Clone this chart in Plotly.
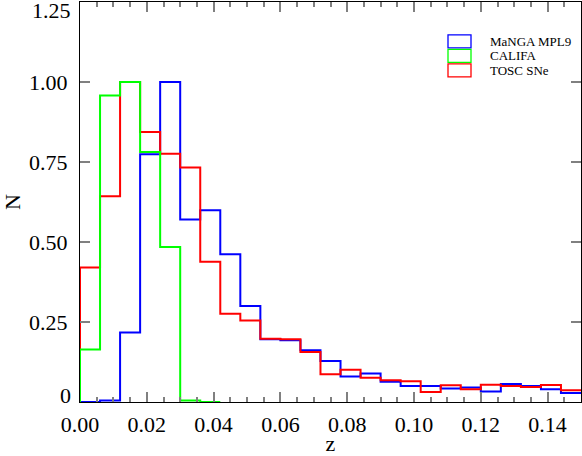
import plotly.graph_objects as go

# redshift bin edges (bin width 0.006)
Z_EDGES = [0.000, 0.006, 0.012, 0.018, 0.024, 0.030, 0.036, 0.042, 0.048, 0.054,
           0.060, 0.066, 0.072, 0.078, 0.084, 0.090, 0.096, 0.102, 0.108, 0.114,
           0.120, 0.126, 0.132, 0.138, 0.144, 0.150]

# normalised counts per bin
MANGA = [0.000, 0.005, 0.217, 0.774, 1.000, 0.570, 0.599, 0.462, 0.300, 0.196,
         0.193, 0.162, 0.128, 0.080, 0.089, 0.063, 0.050, 0.050, 0.042, 0.045,
         0.033, 0.056, 0.050, 0.040, 0.028]
CALIFA = [0.164, 0.958, 1.000, 0.781, 0.484, 0.005, 0.000]
TOSC = [0.420, 0.643, 1.000, 0.844, 0.776, 0.733, 0.438, 0.276, 0.255, 0.198,
        0.196, 0.156, 0.087, 0.101, 0.076, 0.068, 0.065, 0.031, 0.052, 0.040,
        0.054, 0.050, 0.047, 0.053, 0.037]

X_TICKS = [0, 0.02, 0.04, 0.06, 0.08, 0.10, 0.12, 0.14]
X_LABELS = ["0.00", "0.02", "0.04", "0.06", "0.08", "0.10", "0.12", "0.14"]
Y_TICKS = [0, 0.25, 0.5, 0.75, 1.0, 1.25]
Y_LABELS = ["0", "0.25", "0.50", "0.75", "1.00", "1.25"]

SERIES = [("MaNGA MPL9", MANGA, "#0000FF"),
          ("CALIFA", CALIFA, "#00FF00"),
          ("TOSC SNe", TOSC, "#FF0000")]
DRAW_ORDER = ["MaNGA MPL9", "TOSC SNe", "CALIFA"]

FONT = "Liberation Serif"
TICK = "#808080"


def step(vals):
    n = len(vals)
    xs = [Z_EDGES[0]] + Z_EDGES[:n + 1]
    ys = [0] + list(vals) + [vals[-1]]
    return xs, ys


fig = go.Figure()
lookup = {name: (vals, col) for name, vals, col in SERIES}
for name in DRAW_ORDER:
    vals, col = lookup[name]
    xs, ys = step(vals)
    fig.add_trace(go.Scatter(x=xs, y=ys, mode="lines", line_shape="hv",
                             line=dict(color=col, width=2), name=name,
                             showlegend=False, hoverinfo="skip"))

# pixel -> paper helpers for the plot box
L, R, B, T = 80.5, 581.5, 401.7, 1.7
def px(x):
    return (x - L) / (R - L)
def py(y):
    return (B - y) / (B - T)

# hand-made legend: outlined boxes + labels, top right
for i, (name, _, col) in enumerate(SERIES):
    cy = 41 + i * 14.5
    fig.add_shape(type="rect", xref="paper", yref="paper",
                  x0=px(448.5), x1=px(471.5), y0=py(cy + 6.5), y1=py(cy - 6.5),
                  line=dict(color=col, width=1.3), fillcolor="rgba(0,0,0,0)")
    fig.add_annotation(xref="paper", yref="paper", x=px(488), y=py(cy),
                       xanchor="left", yanchor="middle", showarrow=False,
                       text=name, font=dict(family=FONT, size=13, color="black"))

# end labels of the y axis sit inside the frame (IDL style)
y_ticktext = list(Y_LABELS)
y_ticktext[0] = ""
y_ticktext[-1] = ""
fig.add_annotation(xref="paper", yref="paper", x=px(73.5), y=py(409.5),
                   xanchor="right", yanchor="bottom", showarrow=False,
                   text=Y_LABELS[0], font=dict(family=FONT, size=22, color="black"))
fig.add_annotation(xref="paper", yref="paper", x=px(73.5), y=py(-4),
                   xanchor="right", yanchor="top", showarrow=False,
                   text=Y_LABELS[-1], font=dict(family=FONT, size=22, color="black"))

axis_common = dict(
    showline=True, linecolor="black", linewidth=1, mirror="allticks",
    ticks="inside", tickcolor=TICK, tickwidth=1.5, ticklen=10,
    showgrid=False, automargin=False,
    tickfont=dict(family=FONT, size=22, color="black"),
)

fig.update_layout(
    width=582, height=456,
    margin=dict(l=80, r=1, t=2, b=54),
    paper_bgcolor="white", plot_bgcolor="white",
    font=dict(family=FONT, color="black"),
    xaxis=dict(range=[0, 0.15], tickvals=X_TICKS, ticktext=X_LABELS,
               minor=dict(dtick=0.005, ticks="inside", ticklen=5, tickcolor=TICK, tickwidth=1.5),
               title=dict(text="z", font=dict(family=FONT, size=22), standoff=4),
               zeroline=False, ticklabelstandoff=3, **axis_common),
    yaxis=dict(range=[0, 1.25], tickvals=Y_TICKS, ticktext=y_ticktext,
               title=dict(text="N", font=dict(family=FONT, size=22), standoff=9),
               zeroline=True, zerolinecolor=TICK, zerolinewidth=2,
               ticklabelstandoff=7, **axis_common),
)

fig.write_html("out.html", config={"displayModeBar": False},
               post_script="document.body.style.margin='0px';")
